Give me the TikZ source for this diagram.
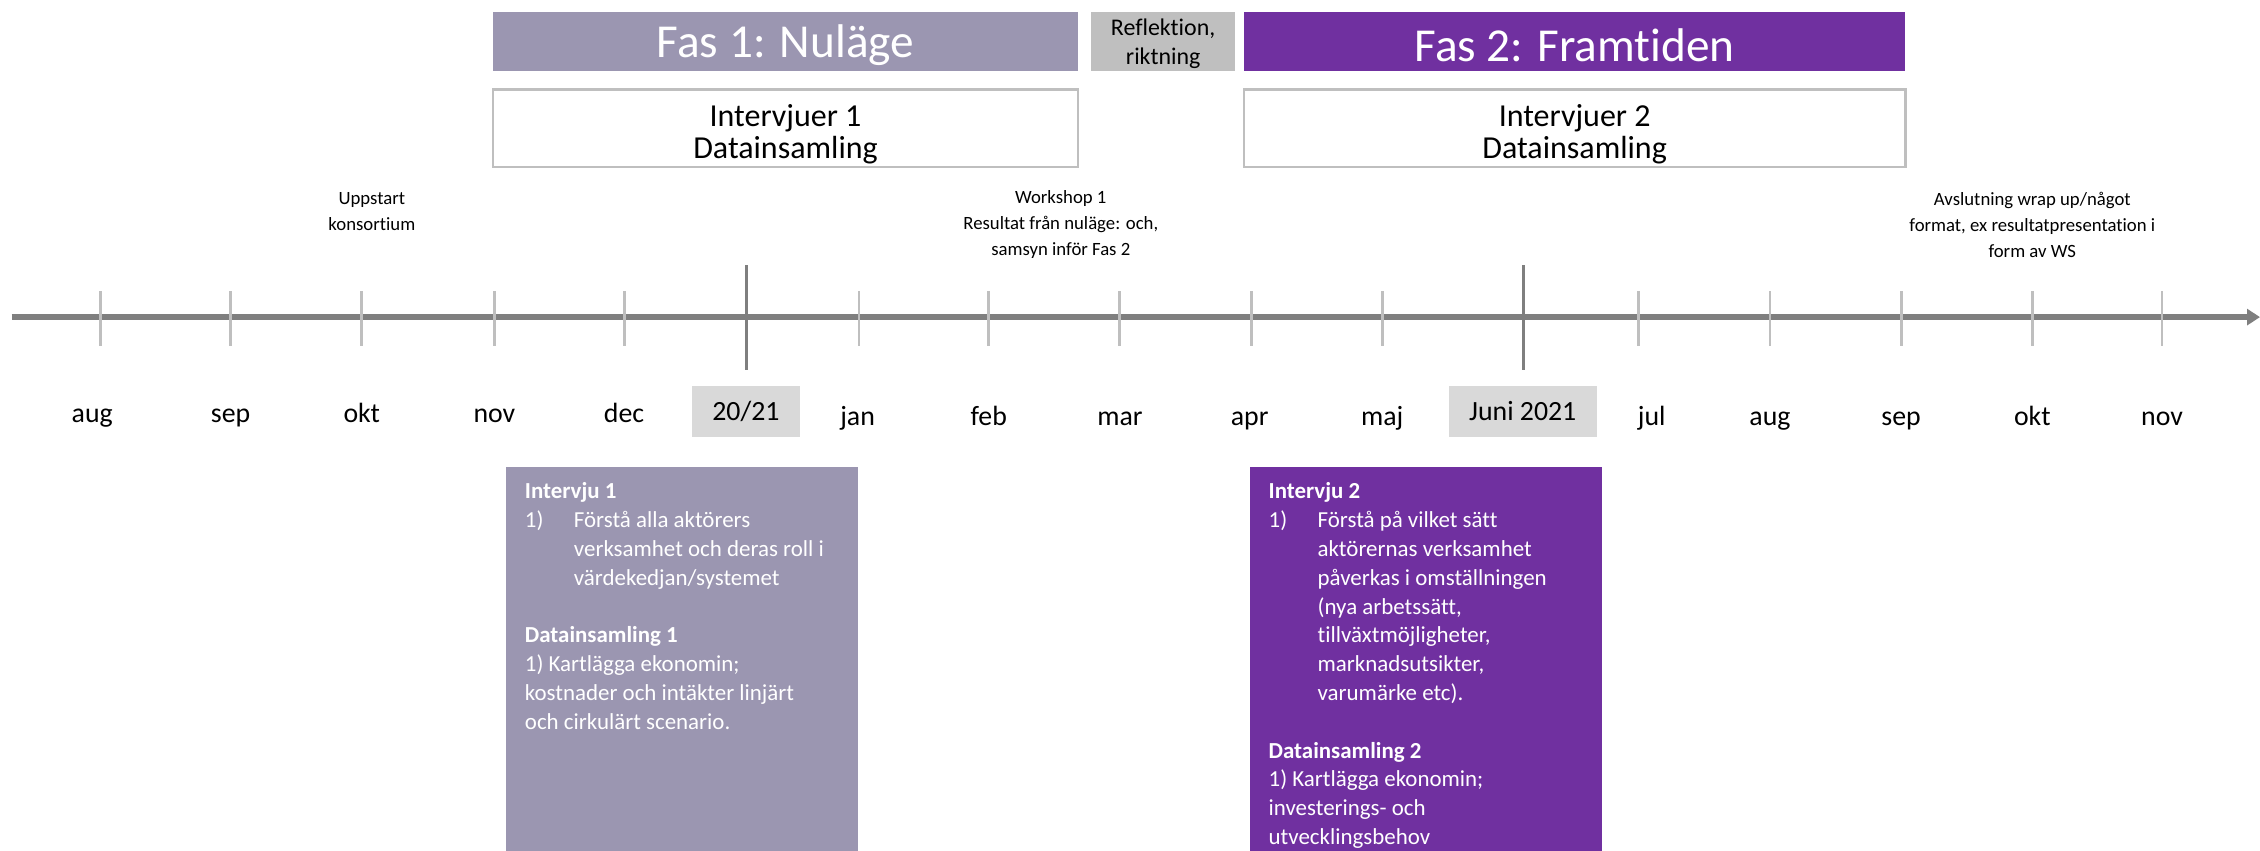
\documentclass[tikz,border=0pt]{standalone}
\usepackage{fontspec}
\setmainfont{Carlito}[Ligatures=NoCommon]
\usetikzlibrary{arrows.meta}
\definecolor{fasone}{RGB}{155,150,177}
\definecolor{fastwo}{RGB}{112,48,160}
\definecolor{axisgray}{RGB}{127,127,127}
\definecolor{tickgray}{RGB}{191,191,191}
\definecolor{dategray}{RGB}{217,217,217}
\begin{document}
\begin{tikzpicture}[x=1pt,y=-1pt,
  phase/.style={rectangle, inner sep=0, minimum height=41pt},
  phasetext/.style={inner sep=0, text=white, font=\fontsize{32.8}{38}\selectfont},
  reflbox/.style={rectangle, inner sep=0, minimum height=41pt, fill=tickgray},
  refltext/.style={align=center, inner sep=0, font=\fontsize{16.6}{20}\selectfont},
  outline/.style={rectangle, draw=tickgray, line width=1.8pt, fill=white,
    minimum height=54pt},
  outtext/.style={align=center, inner sep=0, font=\fontsize{22.2}{22}\selectfont},
  month/.style={anchor=base, inner sep=0, font=\fontsize{19.3}{22}\selectfont},
  datebox/.style={rectangle, fill=dategray, inner sep=0, minimum height=35pt,
    font=\fontsize{19.3}{22}\selectfont},
  note/.style={align=center, inner sep=0, font=\fontsize{13}{18}\selectfont},
  detail/.style={rectangle, anchor=north west, inner sep=0, minimum width=244pt,
    minimum height=266pt},
  boxtxt/.style={anchor=base west, inner sep=0, text=white,
    font=\fontsize{15.9}{20}\selectfont},
  boxhead/.style={boxtxt, font=\fontsize{15.9}{20}\selectfont\bfseries},
  axis/.style={draw=axisgray, line width=4pt, -{Triangle[length=9pt,width=11pt]}},
  minortick/.style={draw=tickgray, line width=2pt},
  majortick/.style={draw=axisgray, line width=2pt}
]
\useasboundingbox (0,0) rectangle (1568,590);

% phase headers
\node[phase, fill=fasone, minimum width=406pt] (fas1) at (545,28.5) {};
\node[phasetext, yshift=-3pt] (fas1t) at (fas1) {Fas 1: Nuläge};
\node[reflbox, minimum width=100pt] (refl) at (807,28.5) {};
\node[refltext, yshift=-2pt] (reflt) at (refl) {Reflektion,\\riktning};
\node[phase, fill=fastwo, minimum width=459pt] (fas2) at (1092.5,28.5) {};
\node[phasetext, yshift=-3pt] (fas2t) at (fas2) {Fas 2: Framtiden};

% activity boxes
\node[outline, minimum width=406pt] (act1) at (545,89) {};
\node[outtext, yshift=-4pt] (act1t) at (act1) {Intervjuer 1\\Datainsamling};
\node[outline, minimum width=459pt] (act2) at (1092.5,89) {};
\node[outtext, yshift=-4pt] (act2t) at (act2) {Intervjuer 2\\Datainsamling};

% milestone notes
\node[note] (note1) at (258,147) {Uppstart\\konsortium};
\node[note] (note2) at (736,156) {Workshop 1\\Resultat från nuläge: och,\\samsyn inför Fas 2};
\node[note] (note3) at (1410,156) {Avslutning wrap up/något\\format, ex resultatpresentation i\\form av WS};

% time axis
\coordinate (axstart) at (8,220);
\coordinate (axend) at (1568,220);
\draw[axis] (axstart) -- (axend);
\foreach \x in {70,160,251,343,433,596,686,777,868,959,1137,1228,1319,1410,1500}
  \draw[minortick] (\x,202) -- (\x,240);
\foreach \x in {518,1057}
  \draw[majortick] (\x,184) -- (\x,257);

% month labels
\foreach \x/\m in {64/aug,160/sep,251/okt,343/nov,433/dec}
  \node[month] (m-\x) at (\x,293) {\m};
\foreach \x/\m in {595/jan,686/feb,777/mar,867/apr,959/maj,
                   1146/jul,1228/aug,1319/sep,1410/okt,1500/nov}
  \node[month] (m-\x) at (\x,295) {\m};
\node[datebox, minimum width=75pt] (yr1) at (517.5,285.5) {20/21};
\node[datebox, minimum width=103pt] (yr2) at (1056.5,285.5) {Juni 2021};

% detail box, phase 1
\node[detail, fill=fasone] (det1) at (351,324) {};
\node[boxhead] (h1a) at (364,346) {Intervju 1};
\node[boxtxt] (n1a) at (364,366) {1)};
\foreach \t [count=\i from 0] in {Förstå alla aktörers,
    verksamhet och deras roll i, värdekedjan/systemet}
  \node[boxtxt] at (398,366+20*\i) {\t};
\node[boxhead] (h1b) at (364,446) {Datainsamling 1};
\foreach \t [count=\i from 0] in {1) Kartlägga ekonomin;,
    kostnader och intäkter linjärt, och cirkulärt scenario.}
  \node[boxtxt] at (364,466+20*\i) {\t};

% detail box, phase 2
\node[detail, fill=fastwo] (det2) at (867,324) {};
\node[boxhead] (h2a) at (880,346) {Intervju 2};
\node[boxtxt] (n2a) at (880,366) {1)};
\foreach \t [count=\i from 0] in {Förstå på vilket sätt, aktörernas verksamhet,
    påverkas i omställningen, {(nya arbetssätt,}, {tillväxtmöjligheter,},
    {marknadsutsikter,}, varumärke etc).}
  \node[boxtxt] at (914,366+20*\i) {\t};
\node[boxhead] (h2b) at (880,526) {Datainsamling 2};
\foreach \t [count=\i from 0] in {1) Kartlägga ekonomin;,
    investerings- och, utvecklingsbehov}
  \node[boxtxt] at (880,546+20*\i) {\t};
\end{tikzpicture}
\end{document}
